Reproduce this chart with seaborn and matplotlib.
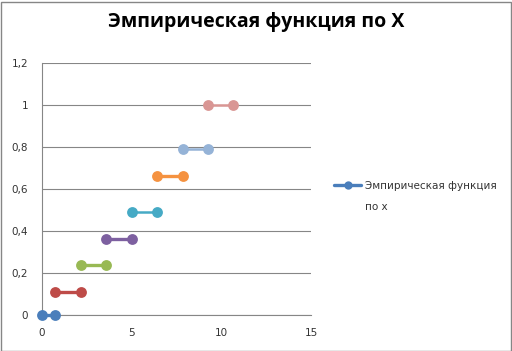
import numpy as np
import pandas as pd
import matplotlib as mpl
mpl.use("Agg")
import matplotlib.pyplot as plt
from matplotlib.patches import Rectangle
from matplotlib.lines import Line2D
import seaborn as sns

# step edges and levels of the empirical CDF
x_left = [0.0, 0.75, 2.17, 3.59, 5.01, 6.43, 7.85, 9.25]
x_right = [0.75, 2.17, 3.59, 5.01, 6.43, 7.85, 9.25, 10.67]
levels = [0.0, 0.11, 0.24, 0.36, 0.49, 0.66, 0.79, 1.0]
colors = ['#4A7EBB', '#BE4B48', '#98B954', '#7D60A0', '#46AAC5',
          '#F59240', '#95B3D7', '#D99694']
line_w = [2.4, 2.4, 2.4, 2.4, 1.8, 2.4, 1.8, 1.8]
x_ticks = [0, 5, 10, 15]
y_ticks = [0, 0.2, 0.4, 0.6, 0.8, 1.0, 1.2]
y_labels = ['0', '0,2', '0,4', '0,6', '0,8', '1', '1,2']
legend_lines = ['Эмпирическая функция', 'по x']
title = 'Эмпирическая функция по X'

sns.set_style("white")
plt.rcParams['font.family'] = ['DejaVu Sans']

fig = plt.figure(figsize=(5.12, 3.51), dpi=100)
ax = fig.add_axes([42 / 512, 36 / 351, 269 / 512, 252 / 351])

for i in range(len(levels)):
    seg = pd.DataFrame({'x': [x_left[i], x_right[i]], 'y': [levels[i], levels[i]]})
    sns.lineplot(data=seg, x='x', y='y', ax=ax, color=colors[i], lw=line_w[i],
                 marker='o', markersize=7.8, markeredgewidth=0, clip_on=False,
                 zorder=3)

ax.set_xlim(0, 15)
ax.set_ylim(0, 1.2)
ax.set_xticks(x_ticks)
ax.set_yticks(y_ticks)
ax.set_yticklabels(y_labels)
ax.set_xlabel('')
ax.set_ylabel('')
ax.grid(axis='y', color='#868686', lw=0.8)
ax.grid(axis='x', visible=False)
for s in ['top', 'right']:
    ax.spines[s].set_visible(False)
for s in ['left', 'bottom']:
    ax.spines[s].set_color('#868686')
    ax.spines[s].set_linewidth(0.8)
ax.tick_params(axis='both', length=4, width=0.8, color='#868686',
               labelsize=7.5, labelcolor='#333333', direction='out', pad=5)
ax.tick_params(axis='y', pad=6)

handle = Line2D([], [], color=colors[0], lw=2.4, marker='o', markersize=6,
                markeredgewidth=0)
leg = fig.legend([handle], [legend_lines[0]], loc='center left',
                 bbox_to_anchor=(325 / 512, 1 - 186 / 351), frameon=False,
                 fontsize=7.5, handlelength=2.6, handletextpad=0.3,
                 labelcolor='#333333')
fig.text(365 / 512, 1 - 207 / 351, legend_lines[1], ha='left', va='center',
         fontsize=7.5, color='#333333')

fig.text(0.5, 1 - 22 / 351, title, ha='center', va='center', fontsize=14,
         fontweight='bold', color='black', family=['Open Sans', 'DejaVu Sans'])

fig.patches.append(Rectangle((0.5 / 512, 0.5 / 351), 1 - 2 / 512, 1 - 2 / 351,
                             transform=fig.transFigure, fill=False,
                             edgecolor='#868686', lw=1))

fig.savefig('out.png', dpi=100)
